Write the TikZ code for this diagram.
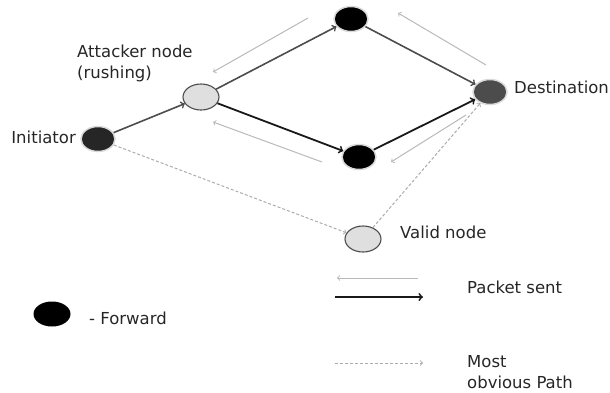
\documentclass[tikz,border=0pt]{standalone}
\usepackage{fontspec}
\setmainfont{DejaVu Sans}
\usetikzlibrary{arrows,shapes,positioning}

\tikzset{
  fwdnode/.style={ellipse,draw=gray!30,line width=1.5pt,fill=black,minimum width=34pt,minimum height=25pt,inner sep=0pt},
  initnode/.style={fwdnode,fill=black!85},
  destnode/.style={fwdnode,fill=black!70},
  graynode/.style={ellipse,draw=black!70,line width=1.1pt,fill=gray!25,minimum width=36pt,minimum height=26pt,inner sep=0pt},
  lbl/.style={inner sep=0pt,font=\fontsize{16.5}{20.5}\selectfont,text=black!85},
  fwdarrow/.style={->,draw=black!70,line width=1.6pt},
  backarrow/.style={->,draw=gray!55,line width=1pt},
  pathline/.style={->,draw=gray!65,line width=1pt,dash pattern=on 3pt off 2pt}
}

\begin{document}
\begin{tikzpicture}[x=1pt,y=-1pt,>=to]
\useasboundingbox (0,0) rectangle (610,392);
% nodes
\node[initnode] (init) at (98,139) {};
\node[graynode] (att) at (201,97) {};
\node[fwdnode] (top) at (351,19) {};
\node[fwdnode] (bot) at (359,157) {};
\node[destnode] (dest) at (490,92) {};
\node[graynode] (valid) at (363,239) {};
\node[fwdnode,draw=none,minimum width=37pt,minimum height=25pt] (key) at (52,314) {};

% labels
\node[lbl,anchor=base east] (initlbl) at (76,143) {Initiator};
\node[lbl,align=left,anchor=base west] (attlbl) at (77,78) {Attacker node\\(rushing)};
\node[lbl,anchor=base west] (destlbl) at (514,93) {Destination};
\node[lbl,anchor=base west] (validlbl) at (400,238) {Valid node};
\node[lbl,anchor=base west] (sentlbl) at (467,293) {Packet sent};
\node[lbl,anchor=base west] (keylbl) at (89,324) {- Forward};
\node[lbl,align=left,anchor=base west] (pathlbl) at (467,388) {Most\\obvious Path};

% forward packets
\draw[fwdarrow] (init) -- (att);
\draw[fwdarrow] (att) -- (top);
\draw[fwdarrow] (top) -- (dest);
\draw[fwdarrow,draw=black!90,line width=1.8pt] (att) -- (bot);
\draw[fwdarrow,draw=black!90,line width=1.8pt] (bot) -- (dest);

% packets sent back
\coordinate (r1s) at (308,18);  \coordinate (r1e) at (213,72);
\coordinate (r2s) at (322,162); \coordinate (r2e) at (213,122);
\coordinate (r3s) at (486,65);  \coordinate (r3e) at (398,13);
\coordinate (r4s) at (466,115); \coordinate (r4e) at (391,162);
\draw[backarrow] (r1s) -- (r1e);
\draw[backarrow] (r2s) -- (r2e);
\draw[backarrow] (r3s) -- (r3e);
\draw[backarrow] (r4s) -- (r4e);

% most obvious path
\draw[pathline] (init) -- (valid);
\draw[pathline] (valid) -- (dest);

% legend
\coordinate (k1s) at (418,278); \coordinate (k1e) at (337,278);
\coordinate (k2s) at (335,297); \coordinate (k2e) at (423,297);
\coordinate (k3s) at (335,363); \coordinate (k3e) at (423,363);
\draw[backarrow] (k1s) -- (k1e);
\draw[fwdarrow,draw=black!90,line width=1.8pt] (k2s) -- (k2e);
\draw[pathline] (k3s) -- (k3e);
\end{tikzpicture}
\end{document}
